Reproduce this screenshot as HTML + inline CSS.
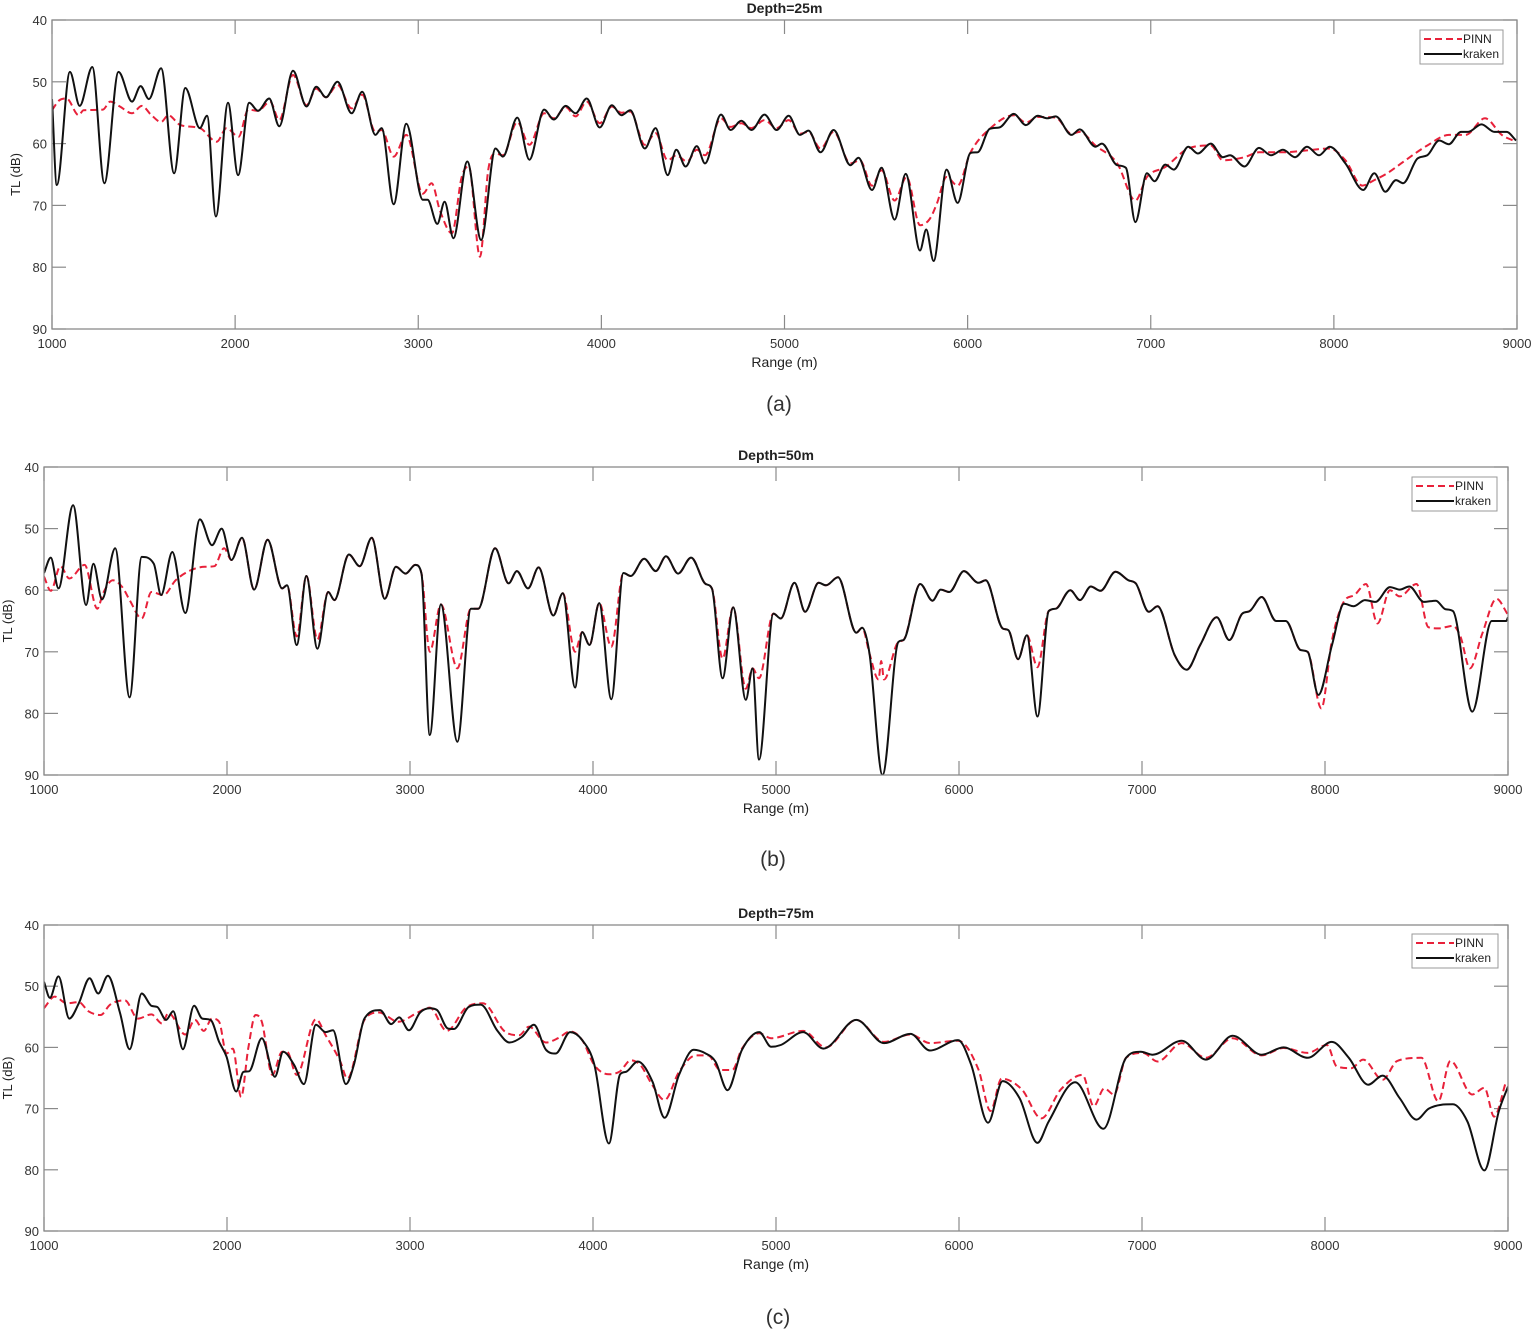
<!DOCTYPE html>
<html><head><meta charset="utf-8">
<style>
body{margin:0;background:#fff;}
svg{display:block;font-family:"Liberation Sans",sans-serif;}
</style></head>
<body>
<svg id="fig" width="1535" height="1331" viewBox="0 0 1535 1331"></svg>
<script>
// ---------- Data (range m, TL dB) ----------
const aKrakenR=[1000,1026,1098,1151,1220,1286,1363,1437,1484,1529,1596,1667,1728,1807,1847,1895,1961,2016,2077,2125,2186,2241,2316,2390,2443,2496,2559,2636,2694,2766,2800,2866,2935,3025,3051,3104,3144,3192,3268,3343,3422,3462,3541,3607,3687,3740,3806,3859,3920,3991,4057,4110,4158,4237,4296,4362,4409,4460,4521,4566,4653,4706,4764,4820,4891,4957,5023,5084,5131,5197,5268,5360,5404,5478,5530,5601,5662,5740,5774,5814,5885,5945,6016,6055,6121,6173,6252,6318,6383,6436,6481,6567,6612,6698,6733,6817,6864,6916,6979,7021,7079,7126,7205,7257,7328,7394,7433,7512,7591,7657,7722,7788,7853,7919,7977,8063,8160,8221,8281,8339,8378,8457,8510,8575,8628,8694,8733,8806,8877,8943,8995];
const aKrakenTL=[52.8,66.7,48.4,53.9,47.6,66.4,48.4,53.2,50.7,52.8,47.8,64.8,51.0,57.5,55.5,71.8,53.4,65.1,53.4,54.7,52.7,57.2,48.2,54.0,50.8,52.5,50.0,55.1,51.6,58.6,57.5,69.8,56.8,69.1,69.1,73.0,69.4,75.3,62.9,75.6,60.8,62.1,55.8,62.6,54.5,56.1,53.9,55.1,52.7,57.4,53.8,55.4,54.6,60.8,57.5,65.1,61.0,63.7,60.4,63.2,55.3,57.8,56.3,57.8,55.3,57.8,55.5,58.6,57.9,61.4,57.8,63.5,62.3,67.5,63.9,72.3,64.9,77.3,73.9,79.0,64.2,69.6,61.5,61.4,57.6,57.4,55.2,57.0,55.5,55.9,55.6,58.6,57.7,60.5,60.0,63.5,63.9,72.7,64.8,66.1,63.4,64.2,60.5,61.6,60.0,62.2,61.9,63.7,60.7,61.9,61.0,62.2,60.5,61.9,60.5,63.2,67.5,64.8,67.8,65.9,66.4,62.4,61.9,59.5,60.1,58.1,58.1,56.9,58.1,58.1,59.5];
const aPinnR=[1000,1040,1079,1146,1172,1278,1318,1371,1437,1490,1543,1596,1635,1701,1807,1900,1953,2019,2072,2125,2191,2241,2316,2390,2443,2496,2559,2636,2694,2766,2800,2866,2935,3025,3073,3118,3184,3237,3276,3337,3382,3422,3462,3541,3607,3687,3740,3806,3859,3920,3991,4057,4110,4158,4237,4296,4362,4409,4468,4521,4566,4653,4706,4764,4820,4891,4957,5023,5084,5131,5197,5268,5360,5412,5478,5530,5601,5667,5740,5793,5832,5885,5945,6016,6121,6252,6318,6383,6481,6567,6612,6698,6817,6916,6979,7079,7205,7328,7394,7512,7591,7722,7853,7977,8063,8155,8221,8286,8391,8510,8628,8720,8825,8917,8995];
const aPinnTL=[54.6,53.0,52.7,55.4,54.6,54.5,53.2,54.0,55.1,53.9,55.4,56.5,55.4,57.0,57.5,59.7,57.5,58.9,54.5,54.7,53.2,56.2,48.9,53.8,51.1,52.5,50.5,54.3,52.1,58.1,57.8,62.1,58.6,68.1,66.4,70.8,74.5,65.4,63.7,78.3,64.3,61.6,61.9,56.5,60.2,55.1,55.9,54.1,55.6,53.2,56.7,54.0,55.0,54.8,60.2,58.3,62.7,61.9,62.9,61.0,61.9,55.9,57.3,56.7,57.5,56.2,57.5,56.2,58.4,58.1,60.8,58.1,63.2,62.7,66.8,64.3,69.2,65.4,73.2,72.2,69.7,65.4,66.8,61.4,57.6,55.4,56.6,55.7,55.8,58.4,58.1,60.3,63.2,69.2,65.4,63.8,60.8,60.3,62.7,62.2,61.4,61.4,61.1,60.8,62.7,66.8,65.9,64.9,62.7,60.3,58.6,58.6,55.9,58.6,59.7];

const bKrakenR=[1000,1037,1079,1159,1230,1270,1317,1389,1468,1534,1600,1640,1701,1772,1852,1918,1971,2024,2082,2148,2222,2301,2328,2381,2434,2494,2553,2587,2666,2725,2791,2862,2923,2976,3029,3063,3108,3169,3259,3333,3373,3465,3539,3584,3645,3703,3783,3835,3902,3941,3981,4034,4100,4166,4206,4280,4343,4399,4465,4536,4616,4650,4708,4766,4835,4872,4907,4986,5026,5101,5159,5233,5273,5339,5439,5471,5511,5582,5669,5696,5788,5855,5900,5947,6027,6106,6146,6238,6270,6323,6371,6429,6490,6529,6608,6661,6720,6773,6855,6926,6966,7037,7085,7178,7244,7318,7408,7477,7548,7588,7654,7733,7786,7866,7905,7964,8038,8104,8157,8218,8276,8355,8408,8461,8540,8606,8659,8699,8805,8911,8990,9000];
const bKrakenTL=[57.2,54.7,59.7,46.2,62.4,55.7,61.5,53.2,77.4,54.6,55.7,60.8,53.8,63.7,48.5,52.7,50.0,55.1,51.5,59.9,51.8,59.7,59.2,68.9,57.7,69.5,60.3,61.6,54.2,56.1,51.5,61.4,56.2,57.3,55.9,57.3,83.5,62.3,84.6,63.0,63.0,53.2,58.9,56.9,59.7,56.3,64.1,60.5,75.8,66.8,68.9,62.1,77.7,57.2,57.7,54.9,56.9,54.5,57.3,54.7,59.0,59.7,74.3,62.8,77.8,72.7,87.5,63.8,64.6,58.8,63.5,58.8,59.2,57.9,66.9,66.1,70.3,90.0,68.4,68.1,59.0,61.7,59.9,60.3,56.9,58.8,58.4,66.2,66.5,71.2,67.3,80.5,63.4,63.0,60.0,61.6,59.4,60.1,57.0,58.4,58.9,63.5,62.6,70.5,72.9,68.9,64.4,68.1,63.8,63.4,61.1,65.0,65.0,69.7,70.0,77.0,68.9,62.2,62.6,61.6,61.9,59.5,59.9,59.4,61.9,61.7,63.1,63.4,79.7,65.0,65.0,64.4];
const bPinnR=[1000,1037,1090,1138,1222,1291,1323,1376,1428,1468,1534,1587,1653,1719,1799,1878,1931,1984,2024,2082,2148,2222,2301,2328,2381,2434,2494,2553,2587,2666,2725,2791,2862,2923,2976,3029,3063,3108,3169,3259,3333,3373,3465,3539,3584,3645,3703,3783,3835,3902,3941,3981,4034,4100,4166,4206,4280,4343,4399,4465,4536,4616,4650,4708,4766,4835,4872,4907,4986,5026,5101,5159,5233,5273,5339,5439,5471,5511,5560,5575,5590,5669,5696,5788,5855,5900,5947,6027,6106,6146,6238,6270,6323,6371,6429,6490,6529,6608,6661,6720,6773,6855,6926,6966,7037,7085,7178,7244,7318,7408,7477,7548,7588,7654,7733,7786,7866,7905,7980,8038,8104,8160,8224,8287,8355,8408,8500,8565,8620,8699,8740,8792,8860,8937,9000];
const bPinnTL=[57.8,60.1,56.1,58.1,55.9,63.0,60.5,58.4,59.5,61.6,64.6,60.3,60.8,58.4,56.8,56.2,56.1,53.2,55.1,51.5,59.9,51.8,59.7,59.2,67.5,57.7,68.0,60.3,61.6,54.2,56.1,51.5,61.4,56.2,57.3,55.9,57.3,70.0,62.3,72.7,63.0,63.0,53.2,58.9,56.9,59.7,56.3,64.1,60.5,70.0,66.8,68.9,62.1,69.2,57.2,57.7,54.9,56.9,54.5,57.3,54.7,59.0,59.7,71.1,62.8,76.0,72.7,74.3,63.8,64.6,58.8,63.5,58.8,59.2,57.9,66.9,66.1,70.3,74.5,71.5,74.5,68.4,68.1,59.0,61.7,59.9,60.3,56.9,58.8,58.4,66.2,66.5,71.2,67.3,72.5,63.4,63.0,60.0,61.6,59.4,60.1,57.0,58.4,58.9,63.5,62.6,70.5,72.9,68.9,64.4,68.1,63.8,63.4,61.1,65.0,65.0,69.7,70.0,79.2,68.1,61.8,60.8,59.0,65.4,60.0,61.0,59.0,66.0,66.2,65.8,67.5,72.7,67.0,61.4,64.0];

const cKrakenR=[1000,1032,1079,1138,1190,1249,1296,1349,1415,1468,1534,1587,1619,1667,1706,1759,1820,1865,1910,1957,1997,2050,2090,2121,2190,2262,2307,2367,2420,2486,2539,2579,2650,2693,2751,2836,2897,2941,2994,3055,3108,3148,3206,3240,3320,3386,3478,3544,3611,3677,3743,3796,3875,3941,4007,4087,4148,4179,4245,4325,4391,4470,4550,4616,4669,4735,4814,4908,4974,5026,5148,5259,5439,5590,5735,5841,5995,6066,6159,6238,6331,6429,6490,6635,6789,6913,6992,7058,7217,7349,7495,7654,7773,7905,8037,8130,8236,8315,8408,8500,8567,8699,8778,8871,8950,9000];
const cKrakenTL=[49.3,51.9,48.4,55.3,52.8,48.7,51.2,48.3,54.3,60.3,51.2,53.2,53.4,55.5,54.1,60.3,53.2,55.3,55.5,59.1,61.5,67.2,64.0,63.9,58.5,64.8,60.7,62.9,66.0,56.3,57.5,57.2,66.0,62.9,55.3,53.9,56.2,55.1,57.2,54.3,53.6,53.9,56.9,57.0,53.4,53.0,57.3,59.2,58.3,56.3,60.4,61.0,57.5,58.8,62.8,75.7,64.4,64.0,62.3,65.6,71.5,64.5,60.4,61.0,62.3,67.0,60.4,57.5,59.9,59.6,57.5,60.2,55.5,59.3,57.8,60.5,58.8,62.8,72.3,65.5,68.3,75.6,72.1,65.7,73.3,61.7,60.7,61.2,58.9,62.0,58.1,61.2,60.0,61.7,59.1,61.7,66.1,64.6,68.3,71.8,70.0,69.3,72.1,80.1,70.4,66.4];
const cPinnR=[1000,1058,1124,1190,1243,1309,1362,1442,1513,1587,1645,1680,1772,1825,1873,1918,1957,1997,2032,2077,2116,2156,2190,2248,2301,2328,2381,2486,2539,2619,2658,2751,2830,2936,3042,3108,3201,3306,3399,3518,3597,3650,3743,3809,3875,3941,4007,4087,4148,4206,4259,4325,4391,4470,4563,4629,4695,4761,4814,4908,4974,5148,5272,5439,5590,5735,5841,5995,6106,6172,6233,6344,6450,6556,6675,6736,6794,6847,6913,7005,7085,7217,7349,7495,7654,7773,7905,8011,8064,8143,8209,8315,8395,8527,8619,8685,8805,8871,8924,8990];
const cPinnTL=[53.6,51.7,52.8,52.6,54.1,54.7,53.0,52.3,55.3,54.6,56.1,54.4,57.9,55.5,57.3,55.3,55.8,61.0,60.2,68.1,60.2,54.7,55.8,64.5,60.7,60.7,64.5,55.4,58.0,62.3,65.1,55.5,54.3,55.8,54.3,53.5,57.3,53.5,52.8,57.4,58.0,56.6,59.2,58.5,57.4,58.8,62.9,64.4,63.9,62.1,62.9,66.2,68.6,64.0,61.3,61.3,63.7,63.7,60.2,57.7,58.5,57.3,60.0,55.5,59.1,57.9,59.3,58.9,63.6,70.4,65.1,66.9,71.6,66.9,64.5,69.6,66.7,67.7,61.7,60.9,62.3,59.3,61.7,58.5,61.3,60.1,60.9,59.6,63.1,63.4,62.0,65.3,62.2,61.7,68.8,62.2,67.7,66.6,71.3,65.5];

const xTicks=[1000,2000,3000,4000,5000,6000,7000,8000,9000];
const yTicks=[40,50,60,70,80,90];
const titles=["Depth=25m","Depth=50m","Depth=75m"];
const captions=["(a)","(b)","(c)"];

const panels=[
 {L:52,R:1517,T:20,B:329,k:[aKrakenR,aKrakenTL],p:[aPinnR,aPinnTL],leg:[1420,30,83,34],cap:[779,404],id:"a"},
 {L:44,R:1508,T:467,B:775,k:[bKrakenR,bKrakenTL],p:[bPinnR,bPinnTL],leg:[1412,477,85,34],cap:[773,859],id:"b"},
 {L:44,R:1508,T:925,B:1231,k:[cKrakenR,cKrakenTL],p:[cPinnR,cPinnTL],leg:[1412,934,86,34],cap:[778,1317],id:"c"}
];
const NS="http://www.w3.org/2000/svg";
const svg=document.getElementById('fig');
function mk(tag,at,parent){const e=document.createElementNS(NS,tag);for(const k in at)e.setAttribute(k,at[k]);(parent||svg).appendChild(e);return e;}

function monoPath(xs,ys){
 const n=xs.length;const d=[],m=[];
 for(let i=0;i<n-1;i++)d.push((ys[i+1]-ys[i])/(xs[i+1]-xs[i]));
 m[0]=d[0];m[n-1]=d[n-2];
 for(let i=1;i<n-1;i++){m[i]=(d[i-1]*d[i]<=0)?0:(d[i-1]+d[i])/2;}
 for(let i=0;i<n-1;i++){if(d[i]===0){m[i]=0;m[i+1]=0;continue;}const a=m[i]/d[i],b=m[i+1]/d[i],s=a*a+b*b;if(s>9){const t=3/Math.sqrt(s);m[i]=t*a*d[i];m[i+1]=t*b*d[i];}}
 let p="M"+xs[0].toFixed(1)+","+ys[0].toFixed(1);
 for(let i=0;i<n-1;i++){const h=(xs[i+1]-xs[i])/3;
  p+=" C"+(xs[i]+h).toFixed(1)+","+(ys[i]+m[i]*h).toFixed(1)+" "+(xs[i+1]-h).toFixed(1)+","+(ys[i+1]-m[i+1]*h).toFixed(1)+" "+xs[i+1].toFixed(1)+","+ys[i+1].toFixed(1);}
 return p;
}

panels.forEach((P,pi)=>{
 const g=mk('g',{});
 
 
 const xs=r=>P.L+(r-1000)/8000*(P.R-P.L);
 const ys=v=>P.T+(v-40)/50*(P.B-P.T);
 const cx=(P.L+P.R)/2;
 const cp=mk('clipPath',{id:'clip'+P.id},g);mk('rect',{x:P.L,y:P.T,width:P.R-P.L,height:P.B-P.T},cp);
 xTicks.forEach(t=>{const x=xs(t);
  const l1=mk('line',{x1:x,x2:x,y1:P.B,y2:P.B-14,stroke:'#8a8a8a','stroke-width':1.2},g);
  
  mk('line',{x1:x,x2:x,y1:P.T,y2:P.T+14,stroke:'#8a8a8a','stroke-width':1.2},g);
  const tx=mk('text',{x:x,y:P.B+19,'font-size':13,'text-anchor':'middle',fill:'#333'},g);tx.textContent=t;
  
 });
 yTicks.forEach(t=>{const y=ys(t);
  mk('line',{x1:P.L,x2:P.L+14,y1:y,y2:y,stroke:'#8a8a8a','stroke-width':1.2},g);
  mk('line',{x1:P.R,x2:P.R-14,y1:y,y2:y,stroke:'#8a8a8a','stroke-width':1.2},g);
  const tx=mk('text',{x:P.L-5,y:y+5,'font-size':13,'text-anchor':'end',fill:'#333'},g);tx.textContent=t;
  
 });
 const pin=mk('path',{d:monoPath(P.p[0].map(xs),P.p[1].map(ys)),fill:'none',stroke:'#e8213a','stroke-width':2,'stroke-dasharray':'7,4','clip-path':'url(#clip'+P.id+')'},g);
 
 const kr=mk('path',{d:monoPath(P.k[0].map(xs),P.k[1].map(ys)),fill:'none',stroke:'#111','stroke-width':2,'clip-path':'url(#clip'+P.id+')'},g);
 
 const bx=mk('rect',{x:P.L,y:P.T,width:P.R-P.L,height:P.B-P.T,fill:'none',stroke:'#8a8a8a','stroke-width':1.3},g);
 
 const ti=mk('text',{x:cx,y:P.T-7,'font-size':14,'font-weight':'bold','text-anchor':'middle',fill:'#222'},g);ti.textContent=titles[pi];
 
 const xl=mk('text',{x:cx,y:P.B+38,'font-size':14,'text-anchor':'middle',fill:'#222'},g);xl.textContent='Range (m)';
 
 const yy=(P.T+P.B)/2;
 const yl=mk('text',{x:P.L-32,y:yy,'font-size':13,'text-anchor':'middle',fill:'#222',transform:'rotate(-90 '+(P.L-32)+' '+yy+')'},g);yl.textContent='TL (dB)';
 
 const cap=mk('text',{x:P.cap[0],y:P.cap[1]+7,'font-size':21,'text-anchor':'middle',fill:'#333'},g);cap.textContent=captions[pi];
 
 const [lx,ly,lw,lh]=P.leg;
 const lg=mk('g',{},g);
 
 mk('rect',{x:lx,y:ly,width:lw,height:lh,fill:'#fff',stroke:'#999','stroke-width':1},lg);
 mk('line',{x1:lx+4,x2:lx+42,y1:ly+9,y2:ly+9,stroke:'#e8213a','stroke-width':2,'stroke-dasharray':'7,4'},lg);
 mk('line',{x1:lx+4,x2:lx+42,y1:ly+24,y2:ly+24,stroke:'#111','stroke-width':2},lg);
 const t1=mk('text',{x:lx+43,y:ly+13,'font-size':12,fill:'#222'},lg);t1.textContent='PINN';
 
 const t2=mk('text',{x:lx+43,y:ly+28,'font-size':12,fill:'#222'},lg);t2.textContent='kraken';
 
});
</script>
</body></html>
